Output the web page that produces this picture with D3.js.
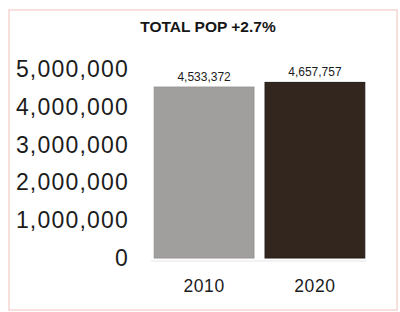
<!DOCTYPE html>
<html>
<head>
<meta charset="utf-8">
<script src="https://cdn.jsdelivr.net/npm/d3@7"></script>
<style>
  body { margin: 0; background: #fff; }
  svg { display: block; font-family: "Liberation Sans", Arial, sans-serif; }
</style>
</head>
<body>
<script>
// data
var years = ["2010", "2020"],
    population = [4533372, 4657757],
    barColors = ["#a19f9e", "#33261f"],
    yTicks = [0, 1000000, 2000000, 3000000, 4000000, 5000000],
    title = "TOTAL POP +2.7%";

var width = 400,
    height = 312,
    format = d3.format(",d");

var svg = d3.select("body").append("svg")
    .attr("width", width)
    .attr("height", height);

// faint pink frame round the panel
svg.append("rect")
    .attr("x", 9)
    .attr("y", 10)
    .attr("width", 388)
    .attr("height", 300)
    .attr("fill", "#fff")
    .attr("stroke", "#f9dfdb")
    .attr("stroke-width", 2);

var x = d3.scaleBand()
    .domain(years)
    .range([152, 367])
    .paddingInner(0.1)
    .paddingOuter(0.02);

var y = d3.scaleLinear()
    .domain([0, 5000000])
    .range([258, 69.5]);

svg.append("text")
    .attr("x", 208)
    .attr("y", 32)
    .attr("text-anchor", "middle")
    .style("font-weight", "bold")
    .style("font-size", "15.5px")
    .style("fill", "#161616")
    .text(title);

// y axis: labels only
var yAxis = svg.append("g")
    .attr("transform", "translate(129,0)")
    .call(d3.axisLeft(y).tickValues(yTicks).tickFormat(format).tickSize(0).tickPadding(0));

yAxis.select(".domain").remove();
yAxis.selectAll("text")
    .style("font-size", "23px")
    .style("letter-spacing", "1.2px")
    .style("font-family", "Liberation Sans, Arial, sans-serif")
    .style("fill", "#1c1c1c");

// light baseline under the bars
svg.append("line")
    .attr("x1", 151)
    .attr("x2", 366)
    .attr("y1", y(0) + 3)
    .attr("y2", y(0) + 3)
    .attr("stroke", "#eeeeee")
    .attr("stroke-width", 1.5);

var bar = svg.selectAll(".bar")
    .data(years)
    .enter().append("g")
    .attr("class", "bar");

bar.append("rect")
    .attr("x", d => x(d))
    .attr("y", (d, i) => y(population[i]))
    .attr("width", x.bandwidth())
    .attr("height", (d, i) => y(0) - y(population[i]))
    .attr("fill", (d, i) => barColors[i])
    .attr("stroke", (d, i) => i ? "#221915" : "#949190")
    .attr("stroke-width", 1);

bar.append("text")
    .attr("x", d => x(d) + x.bandwidth() / 2)
    .attr("y", (d, i) => y(population[i]) - 6)
    .attr("text-anchor", "middle")
    .style("font-size", "12px")
    .style("fill", "#1c1c1c")
    .text((d, i) => format(population[i]));

// x axis labels
var xAxis = svg.append("g")
    .attr("transform", "translate(0," + y(0) + ")")
    .call(d3.axisBottom(x).tickSize(0).tickPadding(22));

xAxis.select(".domain").remove();
xAxis.selectAll("text")
    .style("font-size", "17.5px")
    .style("letter-spacing", "0.6px")
    .style("font-family", "Liberation Sans, Arial, sans-serif")
    .style("fill", "#1c1c1c");
</script>
</body>
</html>
